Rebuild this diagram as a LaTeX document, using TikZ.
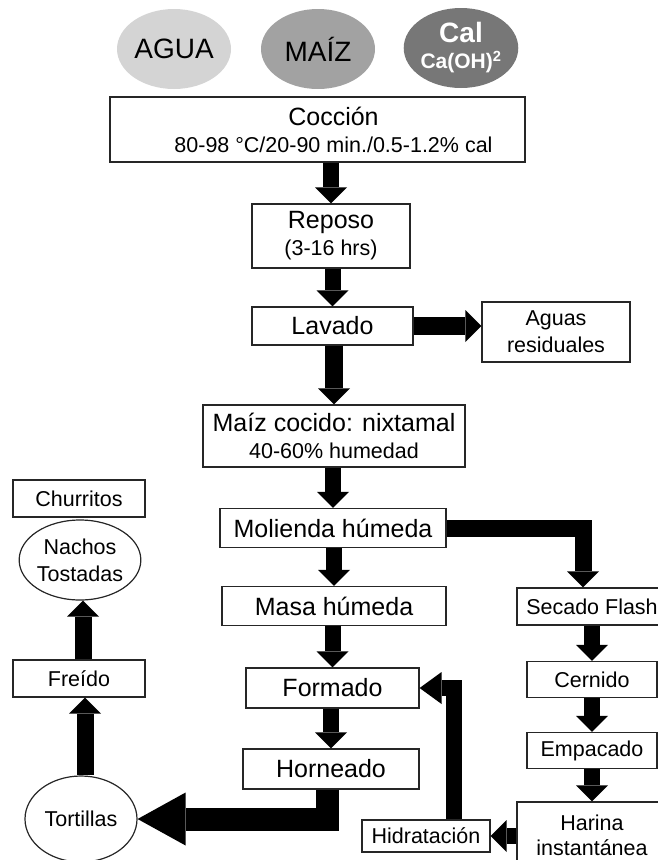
\documentclass[tikz,border=0pt]{standalone}
\usepackage{fontspec}
\setmainfont{Liberation Sans}
\usetikzlibrary{shapes.geometric,arrows.meta}

\newcommand{\letragrande}{\fontsize{25}{27}\selectfont}
\newcommand{\letrachica}{\fontsize{21.5}{27}\selectfont}
\newcommand{\letrainsumo}{\fontsize{28}{30}\selectfont}
\newcommand{\letracal}{\fontsize{21}{24}\selectfont}
\definecolor{grisclaro}{HTML}{D4D4D4}
\definecolor{grismedio}{HTML}{A2A2A2}
\definecolor{grisoscuro}{HTML}{777777}

\begin{document}
\begin{tikzpicture}[x=1pt,y=-1pt,
        every node/.style={align=center,font=\letragrande},
        caja/.style={shape=rectangle,draw=black!85,line width=1.2pt,inner sep=0},
        ovalo/.style={shape=ellipse,draw=black!85,line width=1.2pt,inner sep=0,font=\letrachica},
        insumo/.style={shape=ellipse,inner sep=0,minimum width=114pt,minimum height=80pt,font=\letrainsumo},
        flecha/.style={draw=black,line width=16pt,-{Triangle[width=32pt,length=16pt,line width=0pt]}},
        flechota/.style={draw=black,line width=23pt,-{Triangle[width=53pt,length=48pt,line width=0pt]}},
        ]
\useasboundingbox (0,0) rectangle (658,860);
\clip (0,0) rectangle (658,860);

% insumos
\node [insumo, fill=grisclaro] (agua) at (174,49) {AGUA};
\node [insumo, fill=grismedio] (maiz) at (318,49) {MAÍZ};
\node [insumo, fill=grisoscuro, text=white, font=\letrainsumo\bfseries] (cal) at (461,48)
    {Cal\\[-4pt]{\letracal Ca(OH)\textsuperscript{2}}};

% proceso central
\node [caja, minimum width=415pt, minimum height=65pt] (coccion) at (317.5,129.5)
    {\hspace*{32pt}Cocción\\{\letrachica\hspace*{32pt}80-98 °C/20-90 min./0.5-1.2\% cal}};
\node [caja, minimum width=158pt, minimum height=64pt] (reposo) at (331,236)
    {Reposo\\{\letrachica (3-16 hrs)}};
\node [caja, minimum width=161pt, minimum height=38pt] (lavado) at (332.5,326) {Lavado};
\node [caja, minimum width=148pt, minimum height=60pt, font=\letrachica] (aguas) at (556,332)
    {Aguas\\residuales};
\node [caja, minimum width=262pt, minimum height=62pt] (nixtamal) at (334,436)
    {Maíz cocido: nixtamal\\{\letrachica 40-60\% humedad}};
\node [caja, minimum width=226pt, minimum height=39pt] (molienda) at (333,528) {Molienda húmeda};
\node [caja, minimum width=224pt, minimum height=39pt] (masa) at (334,606) {Masa húmeda};
\node [caja, minimum width=173pt, minimum height=40pt] (formado) at (332.5,688) {Formado};
\node [caja, minimum width=176pt, minimum height=40pt] (horneado) at (331,769) {Horneado};

% harina instantanea
\node [caja, minimum width=150pt, minimum height=37pt, font=\letrachica] (secado) at (592,606.5) {Secado Flash};
\node [caja, minimum width=130pt, minimum height=36pt, font=\letrachica] (cernido) at (592,679.5) {Cernido};
\node [caja, minimum width=130pt, minimum height=36pt, font=\letrachica] (empacado) at (592,750.5) {Empacado};
\node [caja, minimum width=150pt, minimum height=66pt, font=\fontsize{21.5}{25}\selectfont] (harina) at (592,835)
    {Harina\\instantánea};
\node [caja, minimum width=128pt, minimum height=32pt, font=\letrachica] (hidratacion) at (426,836) {Hidratación};

% productos
\node [ovalo, minimum width=112pt, minimum height=86pt] (tortillas) at (81,819) {Tortillas};
\node [caja, minimum width=132pt, minimum height=37pt, font=\letrachica] (freido) at (79,678.5) {Freído};
\node [ovalo, minimum width=106pt, minimum height=80pt] (nachos) at (80,560) {Nachos\\Tostadas};
\node [caja, minimum width=132pt, minimum height=37pt, font=\letrachica] (churritos) at (79,498.5) {Churritos};

% flechas
\path[flecha] (coccion.south -| reposo) -- (reposo.north);
\path[flecha] (reposo.south -| lavado) -- (lavado.north);
\path[flecha, line width=18pt] (lavado) -- (lavado -| aguas.west);
\path[flecha, line width=18pt] (lavado.south -| nixtamal) -- (nixtamal.north);
\path[flecha] (nixtamal.south -| molienda) -- (molienda.north);
\path[flecha, line width=17pt] (molienda.east) -| ([xshift=-9pt]secado.north);
\path[flecha] (molienda.south -| masa) -- (masa.north);
\path[flecha] (masa.south -| formado) -- (formado.north);
\path[flecha] (formado.south -| horneado) -- (horneado.north);
\path[flechota] ([xshift=-4pt]horneado.south) |- (tortillas.east);

\path[flecha] (secado.south -| cernido) -- (cernido.north);
\path[flecha] (cernido.south) -- (empacado.north);
\path[flecha] (empacado.south) -- (harina.north);
\path[flecha] (harina.west |- hidratacion) -- (hidratacion.east);
\path[flecha, -{Triangle[width=32pt,length=22pt,line width=0pt]}] ([xshift=28pt]hidratacion.north) |- (formado.east);

\path[flecha, line width=17pt] ([xshift=4pt]tortillas.north) -- ([xshift=4pt]tortillas.north |- freido.south);
\path[flecha, line width=17pt] ([xshift=4pt]freido.north) -- ([xshift=4pt]freido.north |- nachos.south);

\end{tikzpicture}
\end{document}
